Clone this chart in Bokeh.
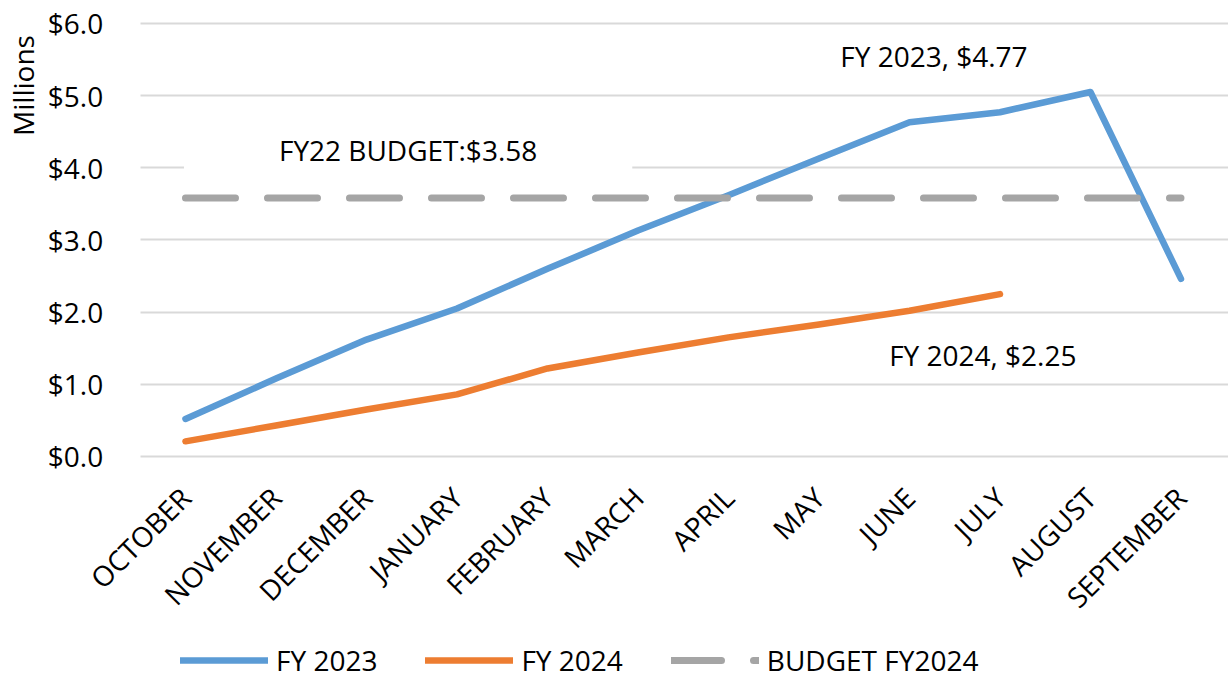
from math import pi
from bokeh.plotting import figure
from bokeh.models import (Range1d, FixedTicker, NumeralTickFormatter,
                          Legend, LegendItem, Label)
from bokeh.embed import file_html
from bokeh.resources import INLINE

months = ["OCTOBER", "NOVEMBER", "DECEMBER", "JANUARY", "FEBRUARY", "MARCH",
          "APRIL", "MAY", "JUNE", "JULY", "AUGUST", "SEPTEMBER"]
fy2023 = [0.52, 1.08, 1.62, 2.05, 2.60, 3.13, 3.62, 4.13, 4.63, 4.77, 5.05, 2.46]
fy2024 = [0.21, 0.43, 0.65, 0.86, 1.22, 1.44, 1.65, 1.83, 2.02, 2.25]
budget = [3.58, 3.58, 3.58, 3.58, 3.58, 3.58, 3.58, 3.58, 3.58, 3.58, 3.58, 3.58]
y_ticks = [0, 1, 2, 3, 4, 5, 6]

FONT = "Open Sans"
FS = "28px"
BLUE = "#5B9BD5"
ORANGE = "#ED7D31"
GRAY = "#A5A5A5"

# category positions 0..11; the plotting frame covers the whole canvas so that
# axes, rotated labels and the legend are all drawn inside it without clipping
xpos = list(range(len(months)))
band_left = xpos[0] - 0.5
band_right = xpos[-1] + 0.5

p = figure(width=1228, height=679, x_range=Range1d(-2.044, 11.525),
           y_range=Range1d(-3.09, 6.318), output_backend="svg",
           toolbar_location=None, min_border=0,
           min_border_left=0, min_border_right=0, min_border_top=0,
           min_border_bottom=0)
p.outline_line_color = None
p.background_fill_color = "white"
p.border_fill_color = "white"

p.xgrid.grid_line_color = None
p.ygrid.ticker = FixedTicker(ticks=y_ticks)
p.ygrid.grid_line_color = "#D9D9D9"
p.ygrid.grid_line_width = 2
try:
    p.ygrid.cross_bounds = (band_left, band_right + 0.03)
except Exception:
    p.ygrid.grid_line_color = None
    p.segment(x0=[band_left] * len(y_ticks), x1=[band_right + 0.03] * len(y_ticks),
              y0=y_ticks, y1=y_ticks, line_color="#D9D9D9", line_width=2,
              level="underlay")

p.yaxis.ticker = FixedTicker(ticks=y_ticks)
p.yaxis.formatter = NumeralTickFormatter(format="$0.0")
p.yaxis.fixed_location = band_left
p.yaxis.major_label_standoff = 31

p.xaxis.ticker = FixedTicker(ticks=xpos)
p.xaxis.major_label_overrides = {i: m for i, m in zip(xpos, months)}
p.xaxis.fixed_location = 0
p.xaxis.major_label_orientation = pi / 4
p.xaxis.major_label_standoff = 30

for ax in (p.xaxis, p.yaxis):
    ax.axis_line_color = None
    ax.major_tick_line_color = None
    ax.minor_tick_line_color = None
    ax.major_label_text_font = FONT
    ax.major_label_text_font_size = FS
    ax.major_label_text_color = "black"

r23 = p.line(xpos, fy2023, line_color=BLUE, line_width=6.5,
             line_cap="round", line_join="round")
r24 = p.line(xpos[:len(fy2024)], fy2024, line_color=ORANGE, line_width=6.5,
             line_cap="round", line_join="round")
rb = p.line(xpos, budget, line_color=GRAY, line_width=7, line_dash="50 32",
            line_cap="round")

lbl_kw = dict(text_font=FONT, text_font_size=FS, text_color="black",
              text_align="center", text_baseline="middle")
p.add_layout(Label(x=2.46, y=4.24, text="FY22 BUDGET:$3.58",
                   background_fill_color="white",
                   padding=dict(left=95, right=95, top=4, bottom=4), **lbl_kw))
p.add_layout(Label(x=8.27, y=5.55, text="FY 2023, $4.77", **lbl_kw))
p.add_layout(Label(x=8.81, y=1.40, text="FY 2024, $2.25", **lbl_kw))
p.add_layout(Label(x=22, y=594, x_units="screen", y_units="screen",
                   angle=pi / 2, text="Millions", **lbl_kw))

legend = Legend(items=[LegendItem(label="FY 2023", renderers=[r23]),
                       LegendItem(label="FY 2024", renderers=[r24]),
                       LegendItem(label="BUDGET FY2024", renderers=[rb])],
                orientation="horizontal", location=(180, 0),
                glyph_width=88, glyph_height=20, label_standoff=8, spacing=48,
                padding=0, margin=0, border_line_color=None,
                background_fill_alpha=0,
                label_text_font=FONT, label_text_font_size=FS,
                label_text_color="black")
p.add_layout(legend, "center")

open("out.html", "w").write(file_html(p, INLINE))
